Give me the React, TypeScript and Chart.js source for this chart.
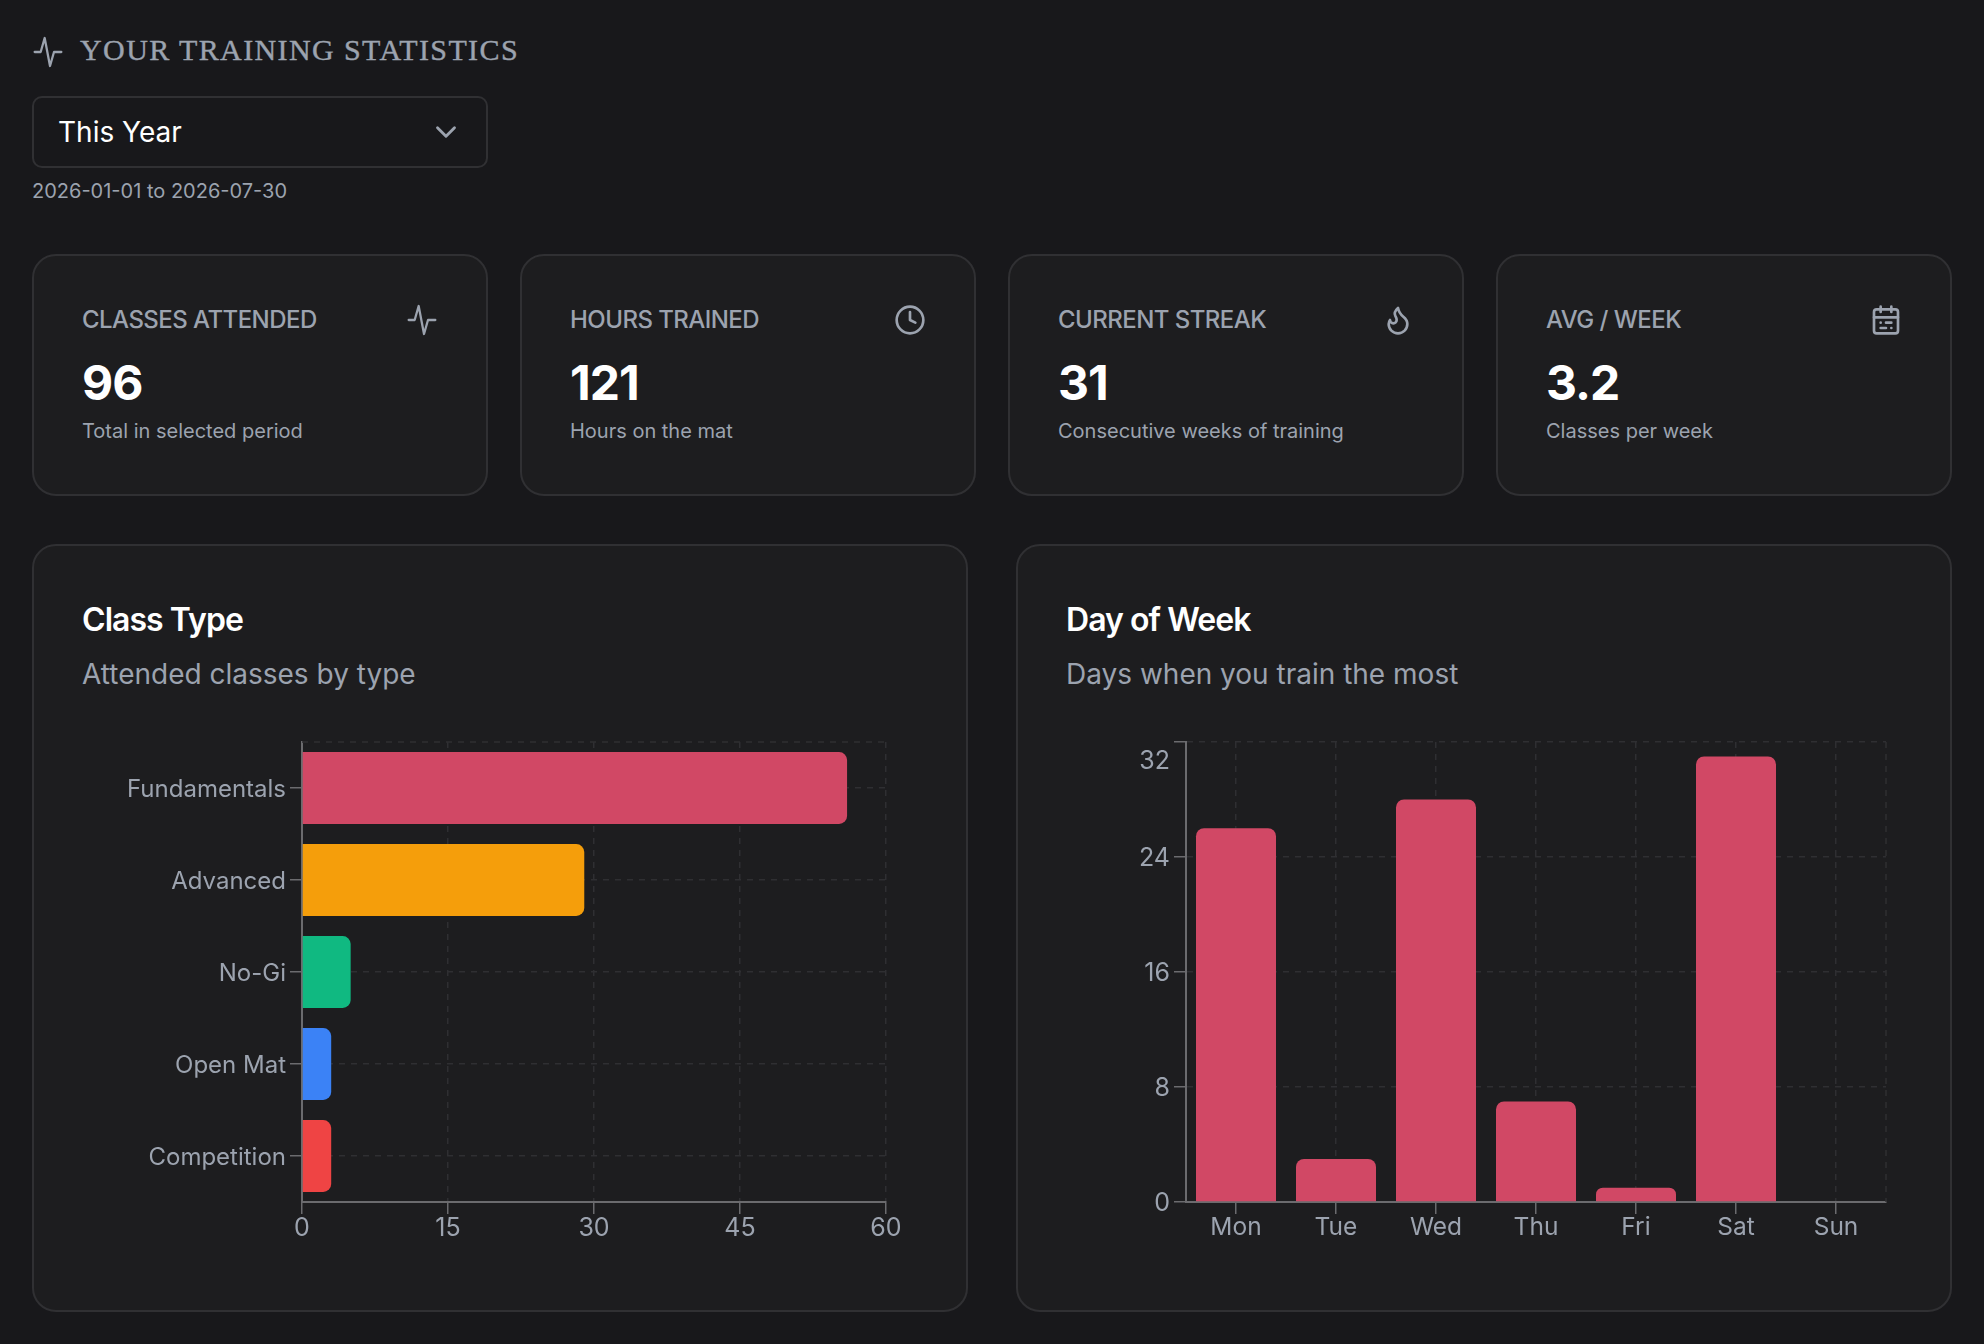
import { useEffect, useRef } from "react";
import type { CSSProperties, ReactNode } from "react";
import { Chart, registerables } from "chart.js";

Chart.register(...registerables);

const classTypes = ["Fundamentals", "Advanced", "No-Gi", "Open Mat", "Competition"];
const classCounts = [56, 29, 5, 3, 3];
const classColors = ["#d14865", "#f59e0b", "#10b981", "#3b82f6", "#ef4444"];
const classTicks = [0, 15, 30, 45, 60];

const days = ["Mon", "Tue", "Wed", "Thu", "Fri", "Sat", "Sun"];
const dayCounts = [26, 3, 28, 7, 1, 31, 0];
const dayTicks = [0, 8, 16, 24, 32];

const statTitles = ["CLASSES ATTENDED", "HOURS TRAINED", "CURRENT STREAK", "AVG / WEEK"];
const statValues = ["96", "121", "31", "3.2"];
const statNotes = ["Total in selected period", "Hours on the mat", "Consecutive weeks of training", "Classes per week"];
const statLefts = [32, 520, 1008, 1496];

const PAGE = "#18181b";
const CARD = "#1d1d1f";
const EDGE = "#303033";
const MUTED = "#9ca3af";
const GRID = "#2f2f32";
const AXIS = "#6b6b6e";
const FONT = "Inter, sans-serif";

// dashed line on the plot edge that has no tick of its own
const edgeGrid = {
  id: "edgeGrid",
  beforeDatasetsDraw(chart: any, _args: any, opts: any) {
    const { ctx, chartArea } = chart;
    ctx.save();
    ctx.strokeStyle = GRID;
    ctx.lineWidth = 1.5;
    ctx.setLineDash([6, 6]);
    ctx.beginPath();
    if (opts.side === "top") {
      ctx.moveTo(chartArea.left, chartArea.top);
      ctx.lineTo(chartArea.right, chartArea.top);
    } else {
      ctx.moveTo(chartArea.right, chartArea.top);
      ctx.lineTo(chartArea.right, chartArea.bottom);
    }
    ctx.stroke();
    ctx.restore();
  },
};

const gridOpts = { color: GRID, lineWidth: 1.5, tickColor: AXIS, tickLength: 12, tickWidth: 1.5, offset: false };
const borderOpts = { color: AXIS, width: 2, dash: [6, 6] };

function ClassChart() {
  const ref = useRef<HTMLCanvasElement | null>(null);
  useEffect(() => {
    if (!ref.current) return;
    const chart = new Chart(ref.current, {
      type: "bar",
      data: {
        labels: classTypes,
        datasets: [
          {
            data: classCounts,
            backgroundColor: classColors,
            borderRadius: { topRight: 8, bottomRight: 8, topLeft: 0, bottomLeft: 0 },
            borderSkipped: false,
            barPercentage: 0.78,
            categoryPercentage: 1,
          },
        ],
      },
      options: {
        indexAxis: "y",
        animation: false,
        responsive: false,
        devicePixelRatio: 1,
        layout: { padding: { top: 42, right: 82, bottom: 0, left: 0 } },
        plugins: { legend: { display: false }, tooltip: { enabled: false }, edgeGrid: { side: "top" } } as any,
        scales: {
          x: {
            type: "linear",
            min: 0,
            max: 60,
            afterBuildTicks: (s: any) => {
              s.ticks = classTicks.map((value) => ({ value }));
            },
            afterFit: (s: any) => {
              s.height = 88;
            },
            grid: gridOpts,
            border: borderOpts,
            ticks: { color: MUTED, font: { family: FONT, size: 25 }, padding: -1, maxRotation: 0 },
          },
          y: {
            afterFit: (s: any) => {
              s.width = 269;
            },
            grid: gridOpts,
            border: borderOpts,
            ticks: { color: MUTED, font: { family: FONT, size: 24 }, padding: 4, labelOffset: 2, autoSkip: false },
          },
        },
      },
      plugins: [edgeGrid],
    });
    return () => chart.destroy();
  }, []);
  return <canvas ref={ref} width={935} height={590} style={{ position: "absolute", left: 33, top: 700 }} />;
}

function DayChart() {
  const ref = useRef<HTMLCanvasElement | null>(null);
  useEffect(() => {
    if (!ref.current) return;
    const chart = new Chart(ref.current, {
      type: "bar",
      data: {
        labels: days,
        datasets: [
          {
            data: dayCounts,
            backgroundColor: "#d14865",
            borderRadius: { topLeft: 8, topRight: 8, bottomLeft: 0, bottomRight: 0 },
            borderSkipped: false,
            barPercentage: 0.8,
            categoryPercentage: 1,
          },
        ],
      },
      options: {
        animation: false,
        responsive: false,
        devicePixelRatio: 1,
        layout: { padding: { top: 42, right: 65, bottom: 0, left: 0 } },
        plugins: { legend: { display: false }, tooltip: { enabled: false }, edgeGrid: { side: "right" } } as any,
        scales: {
          x: {
            afterFit: (s: any) => {
              s.height = 88;
            },
            grid: gridOpts,
            border: borderOpts,
            ticks: { color: MUTED, font: { family: FONT, size: 24.5 }, padding: -1, maxRotation: 0, autoSkip: false },
          },
          y: {
            min: 0,
            max: 32,
            afterBuildTicks: (s: any) => {
              s.ticks = dayTicks.map((value) => ({ value }));
            },
            afterFit: (s: any) => {
              s.width = 170;
            },
            grid: gridOpts,
            border: borderOpts,
            ticks: {
              color: MUTED,
              font: { family: FONT, size: 25, lineHeight: 1.5 },
              padding: 4,
              labelOffset: 1.2,
              // the top label sits below its tick, as in the reference
              callback: (v: any) => (v === 32 ? ["", String(v)] : String(v)),
            },
          },
        },
      },
      plugins: [edgeGrid],
    });
    return () => chart.destroy();
  }, []);
  return <canvas ref={ref} width={935} height={590} style={{ position: "absolute", left: 1016, top: 700 }} />;
}

/* ------------ UI helpers ------------ */
function Txt({ x, cy, size, color, style, children }: { x: number; cy: number; size: number; color: string; style?: CSSProperties; children: ReactNode }) {
  return (
    <div
      style={{
        position: "absolute",
        left: x,
        top: cy - size,
        lineHeight: `${size * 2}px`,
        fontSize: size,
        color,
        fontFamily: FONT,
        whiteSpace: "nowrap",
        ...style,
      }}
    >
      {children}
    </div>
  );
}

function Box({ x, y, w, h, r, bg }: { x: number; y: number; w: number; h: number; r: number; bg: string }) {
  return (
    <div
      style={{
        position: "absolute",
        left: x,
        top: y,
        width: w,
        height: h,
        boxSizing: "border-box",
        borderRadius: r,
        background: bg,
        border: `2px solid ${EDGE}`,
      }}
    />
  );
}

function Icon({ x, y, size = 32, width = 2, color = MUTED, children }: { x: number; y: number; size?: number; width?: number; color?: string; children: ReactNode }) {
  return (
    <svg
      style={{ position: "absolute", left: x, top: y }}
      width={size}
      height={size}
      viewBox="0 0 24 24"
      fill="none"
      stroke={color}
      strokeWidth={width}
      strokeLinecap="round"
      strokeLinejoin="round"
    >
      {children}
    </svg>
  );
}

const pulse = <path d="M2 12h4.5L9.5 1.5l4 21 3-10.5H22" />;
const statIcons = [
  pulse,
  <>
    <circle cx="12" cy="12" r="10" />
    <path d="M12 6v6l4 2" />
  </>,
  <path d="M8.5 14.5A2.5 2.5 0 0 0 11 12c0-1.38-.5-2-1-3-1.07-2.14-.22-4.05 2-6 .5 2.5 2 4.9 4 6.5s3 3.5 3 5.5a7 7 0 1 1-14 0c0-1.15.43-2.29 1-3a2.5 2.5 0 0 0 2.5 2.5z" />,
  <>
    <rect x="3" y="4" width="18" height="18" rx="2" />
    <path d="M16 2v4M8 2v4M3 10h18M8 14h.01M12 14h4M8 18h4M16 18h.01" />
  </>,
];

export default function App() {
  return (
    <div style={{ position: "absolute", left: 0, top: 0, width: 1984, height: 1344, background: PAGE, overflow: "hidden" }}>
      {/* Header */}
      <Icon x={32} y={36} size={32} width={1.7}>{pulse}</Icon>
      <Txt x={80} cy={50} size={30} color={MUTED} style={{ fontFamily: "'Liberation Serif', serif", letterSpacing: 1.4, WebkitTextStroke: "0.4px" }}>
        YOUR TRAINING STATISTICS
      </Txt>
      <Box x={32} y={96} w={456} h={72} r={10} bg={PAGE} />
      <Txt x={58} cy={132} size={28} color="#ffffff">This Year</Txt>
      <Icon x={429} y={115} size={34} width={2}><path d="M6 9l6 6 6-6" /></Icon>
      <Txt x={32} cy={191} size={20} color={MUTED}>2026-01-01 to 2026-07-30</Txt>

      {/* KPIs */}
      {statTitles.map((title, i) => (
        <div key={title}>
          <Box x={statLefts[i]} y={254} w={456} h={242} r={24} bg={CARD} />
          <Txt x={statLefts[i] + 50} cy={320} size={24} color={MUTED} style={{ fontWeight: 500, letterSpacing: -0.55 }}>{title}</Txt>
          <Txt x={statLefts[i] + 50} cy={383} size={48} color="#ffffff" style={{ fontWeight: 700, letterSpacing: -1 }}>{statValues[i]}</Txt>
          <Txt x={statLefts[i] + 50} cy={431} size={20} color={MUTED}>{statNotes[i]}</Txt>
          <Icon x={statLefts[i] + 374} y={304} size={32} width={i === 0 ? 1.7 : 2}>{statIcons[i]}</Icon>
        </div>
      ))}

      {/* Charts */}
      <Box x={32} y={544} w={936} h={768} r={24} bg={CARD} />
      <Txt x={82} cy={619.5} size={32} color="#ffffff" style={{ fontWeight: 600, letterSpacing: -0.95 }}>Class Type</Txt>
      <Txt x={82} cy={674} size={28} color={MUTED}>Attended classes by type</Txt>
      <ClassChart />

      <Box x={1016} y={544} w={936} h={768} r={24} bg={CARD} />
      <Txt x={1066} cy={619.5} size={32} color="#ffffff" style={{ fontWeight: 600, letterSpacing: -0.95 }}>Day of Week</Txt>
      <Txt x={1066} cy={674} size={28} color={MUTED}>Days when you train the most</Txt>
      <DayChart />
    </div>
  );
}
